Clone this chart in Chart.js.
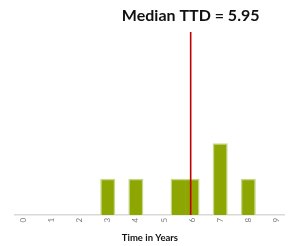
<!DOCTYPE html>
<html>
<head>
<meta charset="utf-8">
<script src="https://cdn.jsdelivr.net/npm/chart.js@4.4.1/dist/chart.umd.min.js"></script>
<style>
html,body{margin:0;padding:0;background:#fff;}
#wrap{width:289px;height:246px;position:relative;}
</style>
</head>
<body>
<div id="wrap"><canvas id="c"></canvas></div>
<script>
// Data
const binCenters = [3, 4, 5.5, 6, 7, 8];
const counts = [1, 1, 1, 1, 2, 1];
const tickValues = [0, 1, 2, 3, 4, 5, 6, 7, 8, 9];
const medianValue = 5.95;
const medianLabel = 'Median TTD = 5.95';
const xTitle = 'Time in Years';
const yTop = 5.13;

const barData = binCenters.map((x, i) => ({x: x, y: counts[i]}));
const medianLine = [{x: medianValue, y: 0}, {x: medianValue, y: yTop}];

const medianTitle = {
  id: 'medianTitle',
  afterDraw(chart) {
    const ctx = chart.ctx;
    const px = chart.scales.x.getPixelForValue(medianValue);
    ctx.save();
    ctx.font = 'bold 16px "Lato", "DejaVu Sans", sans-serif';
    ctx.fillStyle = '#111';
    ctx.textAlign = 'center';
    ctx.textBaseline = 'alphabetic';
    ctx.fillText(medianLabel, px, 21);
    ctx.restore();
  }
};

new Chart(document.getElementById('c'), {
  type: 'bar',
  data: {
    datasets: [
      {
        type: 'line',
        data: medianLine,
        borderColor: '#c00000',
        borderWidth: 1.6,
        pointRadius: 0,
        order: 0
      },
      {
        type: 'bar',
        data: barData,
        backgroundColor: '#8ea602',
        borderColor: '#c5d88a',
        borderWidth: (c) => {
          const x = binCenters[c.dataIndex];
          const hasLeft = binCenters.includes(x - 0.5);
          const hasRight = binCenters.includes(x + 0.5);
          return {top: 1.5, bottom: 0, left: hasLeft ? 0 : 1.5, right: hasRight ? 0 : 1.5};
        },
        inflateAmount: 0.5,
        borderSkipped: false,
        barPercentage: 1,
        categoryPercentage: 1,
        order: 1
      }
    ]
  },
  options: {
    responsive: true,
    maintainAspectRatio: false,
    animation: false,
    layout: {padding: {top: 32, left: 15, right: 0, bottom: 2}},
    plugins: {legend: {display: false}, tooltip: {enabled: false}, title: {display: false}},
    scales: {
      x: {
        type: 'linear',
        min: -0.3,
        max: 9.3,
        offset: false,
        afterBuildTicks: (s) => { s.ticks = tickValues.map(v => ({value: v})); },
        grid: {display: false, drawTicks: false},
        border: {display: true, color: '#d9d9d9', width: 1.5},
        ticks: {
          minRotation: 90, maxRotation: 90, padding: 3,
          color: '#7a7a7a',
          font: {size: 8, family: '"Lato", "DejaVu Sans", sans-serif'},
          callback: (v) => String(v)
        },
        title: {
          display: true, text: xTitle, color: '#111', padding: {top: 7, bottom: 0},
          font: {size: 9.5, weight: 'bold', family: '"Lato", sans-serif'}
        }
      },
      y: {
        display: false,
        min: 0,
        max: yTop
      }
    }
  },
  plugins: [medianTitle]
});
</script>
</body>
</html>
